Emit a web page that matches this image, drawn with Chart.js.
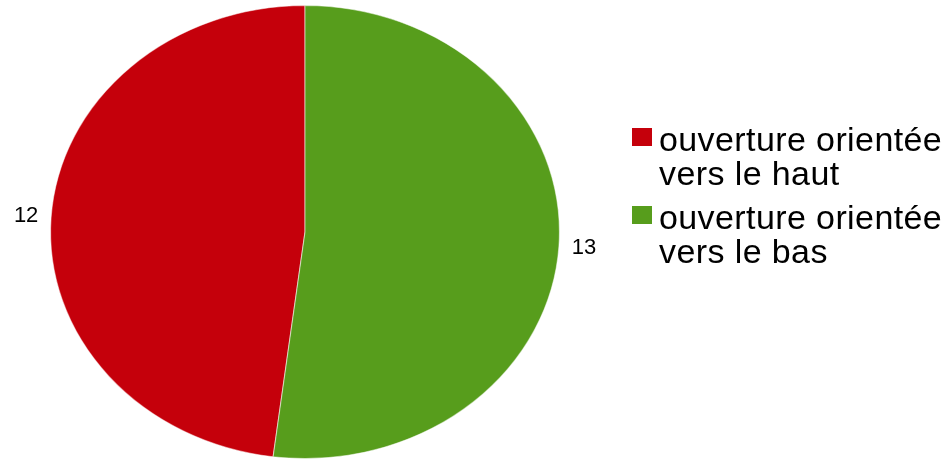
<!DOCTYPE html>
<html>
<head>
<meta charset="utf-8">
<script src="https://cdn.jsdelivr.net/npm/chart.js@4/dist/chart.umd.min.js"></script>
<style>
  html, body { margin: 0; padding: 0; background: #fff; }
  #wrap { position: relative; width: 947px; height: 467px; overflow: hidden; }
  #chart { position: absolute; left: 0; top: 0; }
  .legend-item { position: absolute; left: 632px; font-family: "Liberation Sans", Arial, sans-serif;
    font-size: 34px; line-height: 34px; letter-spacing: 0.4px; color: #000; white-space: pre-line; }
  .legend-item .box { position: absolute; left: 0; top: 6px; width: 20px; height: 18px; }
  .legend-item .text { margin-left: 27px; }
</style>
</head>
<body>
<div id="wrap">
  <canvas id="chart" width="947" height="467"></canvas>
  <div id="legend"></div>
</div>
<script>
const categories = ['ouverture orientée vers le haut', 'ouverture orientée vers le bas'];
const values = [12, 13];
const colors = ['#c5000b', '#579d1c'];

// LibreOffice pie: the first slice runs counter-clockwise from 12 o'clock
const total = values.reduce((s, v) => s + v, 0);
const rotation = 360 * (total - values[0]) / total;

// ellipse: horizontal radius / vertical radius
const stretchX = 255 / 227;

const stretchPlugin = {
  id: 'stretch',
  beforeDatasetsDraw(chart) {
    const arc = chart.getDatasetMeta(0).data[0];
    const ctx = chart.ctx;
    ctx.save();
    ctx.translate(arc.x, 0);
    ctx.scale(stretchX, 1);
    ctx.translate(-arc.x, 0);
  },
  afterDatasetsDraw(chart) {
    chart.ctx.restore();
  }
};

const valueLabels = {
  id: 'valueLabels',
  afterDraw(chart) {
    const ctx = chart.ctx;
    ctx.save();
    ctx.font = '22px "Liberation Sans", Arial, sans-serif';
    ctx.fillStyle = '#000';
    ctx.textAlign = 'center';
    ctx.textBaseline = 'middle';
    chart.getDatasetMeta(0).data.forEach((arc, i) => {
      const p = arc.getProps(['x', 'y', 'startAngle', 'endAngle', 'outerRadius'], true);
      const mid = (p.startAngle + p.endAngle) / 2;
      const x = p.x + (p.outerRadius * stretchX + 25) * Math.cos(mid);
      const y = p.y + (p.outerRadius + 25) * Math.sin(mid);
      ctx.fillText(String(values[i]), x, y);
    });
    ctx.restore();
  }
};

new Chart(document.getElementById('chart'), {
  type: 'pie',
  data: {
    labels: categories,
    datasets: [{
      data: values,
      backgroundColor: colors,
      borderColor: 'rgba(255,255,255,0.5)',
      borderWidth: 1
    }]
  },
  options: {
    responsive: false,
    animation: false,
    rotation: rotation,
    layout: { padding: { left: 78, right: 415, top: 5, bottom: 8 } },
    plugins: {
      legend: { display: false },
      tooltip: { enabled: false }
    }
  },
  plugins: [stretchPlugin, valueLabels]
});

const legendTops = [122, 200];
const legend = document.getElementById('legend');
categories.forEach((c, i) => {
  const item = document.createElement('div');
  item.className = 'legend-item';
  item.style.top = legendTops[i] + 'px';
  item.innerHTML = '<span class="box" style="background:' + colors[i] + '"></span>' +
    '<div class="text"></div>';
  item.querySelector('.text').textContent = c.replace(' vers', '\nvers');
  legend.appendChild(item);
});
</script>
</body>
</html>
